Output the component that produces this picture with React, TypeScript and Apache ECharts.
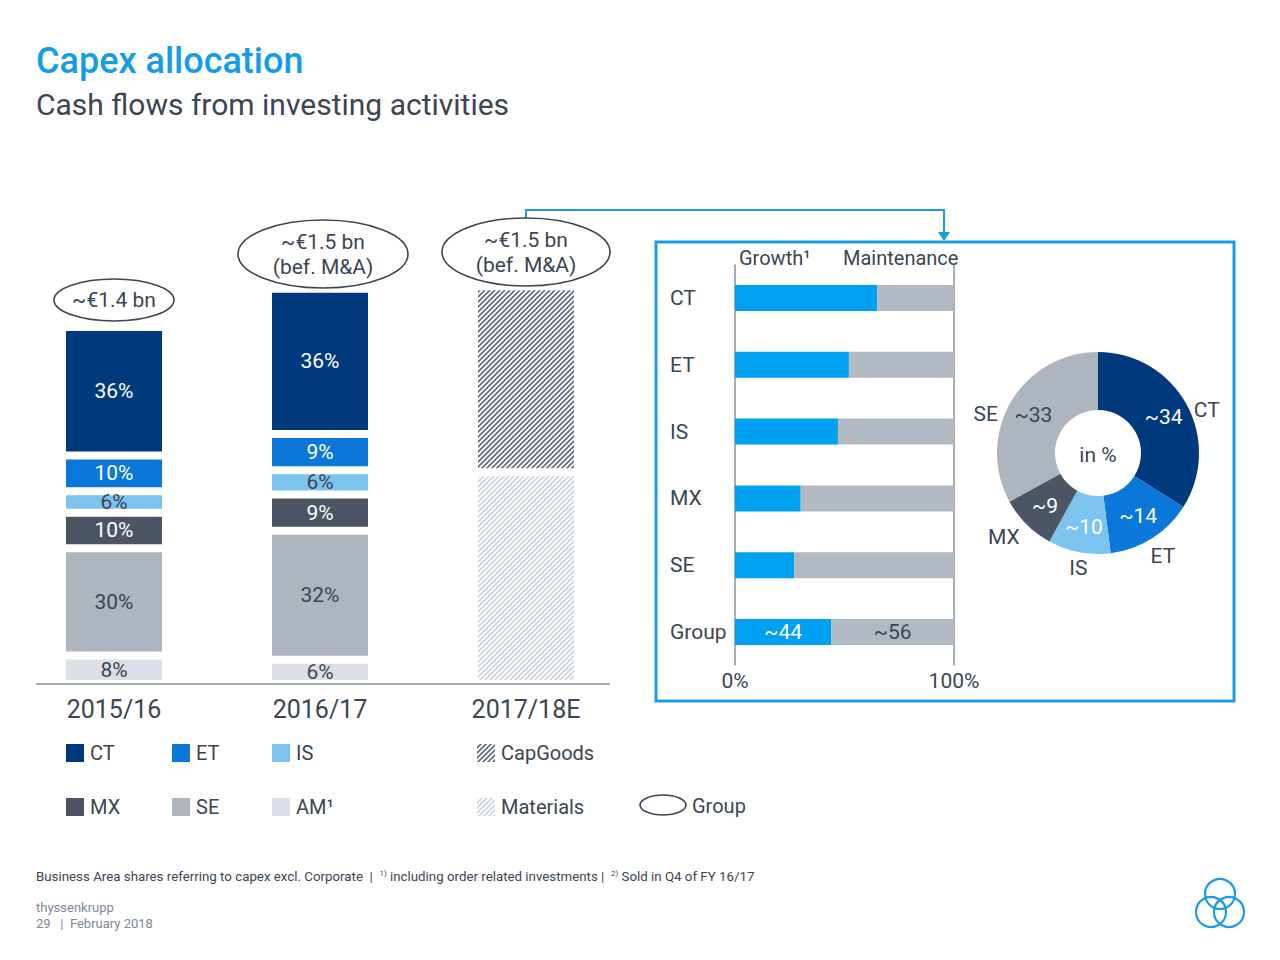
import React, { useEffect, useRef } from 'react';
import * as echarts from 'echarts';

const FONT = "Roboto, 'Liberation Sans', sans-serif";
const TEXT = '#3c4552';
const BLUE = '#1a9be6';
const FS = 20;

// ---- left: business area shares of capex ----
const years = ['2015/16', '2016/17', '2017/18E'];
const areaNames = ['CT', 'ET', 'IS', 'MX', 'SE', 'AM'];
const areaColors = ['#003a7d', '#0b77d9', '#7cc4ef', '#4b5563', '#adb5bf', '#dcdfe7'];
const areaLabelColors = ['#ffffff', '#ffffff', TEXT, '#ffffff', TEXT, TEXT];
const share201516 = [36, 10, 6, 10, 30, 8];
const share201617 = [36, 9, 6, 9, 32, 6];
const capexTotalBn = [1.4, 1.55];
const divisionNames = ['CapGoods', 'Materials'];
const division201718Bn = [0.73, 0.83];
const groupCallouts = ['~€1.4 bn', '~€1.5 bn\n(bef. M&A)', '~€1.5 bn\n(bef. M&A)'];

// ---- right: growth vs maintenance ----
const mixCategories = ['CT', 'ET', 'IS', 'MX', 'SE', 'Group'];
const growthPct = [65, 52, 47, 30, 27, 44];
const maintenancePct = [35, 48, 53, 70, 73, 56];

// ---- donut ----
const donutNames = ['CT', 'ET', 'IS', 'MX', 'SE'];
const donutPct = [34, 14, 10, 9, 33];
const donutColors = ['#003a7d', '#0b77d9', '#7cc4ef', '#4b5563', '#adb5bf'];
const donutLabelColors = ['#ffffff', '#ffffff', '#ffffff', '#ffffff', TEXT];
const donutNameNudge = [
  [-8, 12],
  [-12, 6],
  [14, 2],
  [6, 3],
  [2, 20],
];

function makeHatch(bg: string, fg: string, s: number, lw: number) {
  const c = document.createElement('canvas');
  c.width = s;
  c.height = s;
  const ctx = c.getContext('2d')!;
  ctx.fillStyle = bg;
  ctx.fillRect(0, 0, s, s);
  ctx.strokeStyle = fg;
  ctx.lineWidth = lw;
  ctx.beginPath();
  ctx.moveTo(-1, s + 1);
  ctx.lineTo(s + 1, -1);
  ctx.moveTo(-2, 2);
  ctx.lineTo(2, -2);
  ctx.moveTo(s - 2, s + 2);
  ctx.lineTo(s + 2, s - 2);
  ctx.stroke();
  return c;
}

export default function App() {
  const ref = useRef<HTMLDivElement>(null);
  useEffect(() => {
    const el = ref.current!;
    const chart = echarts.init(el, null, { renderer: 'svg' });
    const darkHatch = { image: makeHatch('#ffffff', '#66707f', 5, 1.8), repeat: 'repeat' };
    const lightHatch = { image: makeHatch('#ffffff', '#cfd4dc', 5, 1.8), repeat: 'repeat' };

    const sum1 = share201516.reduce((a, b) => a + b, 0);
    const sum2 = share201617.reduce((a, b) => a + b, 0);

    const areaSeries: any[] = [];
    // bottom to top: AM, SE, MX, IS, ET, CT
    for (let k = areaNames.length - 1; k >= 0; k--) {
      areaSeries.push({
        name: areaNames[k],
        type: 'bar',
        stack: 'capex',
        xAxisIndex: 0,
        yAxisIndex: 0,
        barWidth: 104,
        itemStyle: { color: areaColors[k], borderColor: '#ffffff', borderWidth: 4 },
        label: {
          show: true,
          position: 'inside',
          color: areaLabelColors[k],
          fontSize: FS + 1,
          fontFamily: FONT,
          formatter: (p: any) => p.data.share + '%',
        },
        data: [
          { value: (share201516[k] / sum1) * capexTotalBn[0], share: share201516[k] },
          { value: (share201617[k] / sum2) * capexTotalBn[1], share: share201617[k] },
          '-',
        ],
      });
    }
    // Materials bottom, CapGoods top
    areaSeries.push({
      name: divisionNames[1],
      type: 'bar',
      stack: 'capex',
      barWidth: 104,
      itemStyle: { color: lightHatch, borderColor: '#ffffff', borderWidth: 4 },
      data: ['-', '-', division201718Bn[1]],
    });
    areaSeries.push({
      name: divisionNames[0],
      type: 'bar',
      stack: 'capex',
      barWidth: 104,
      itemStyle: { color: darkHatch, borderColor: '#ffffff', borderWidth: 4 },
      data: ['-', '-', division201718Bn[0]],
    });

    const groupIdx = mixCategories.indexOf('Group');
    const mixLabel = (color: string) => ({
      show: true,
      position: 'inside',
      color,
      fontSize: FS + 1,
      fontFamily: FONT,
      formatter: '~{c}',
    });

    const legendRow1 = [
      { name: 'CT', x: 66, color: areaColors[0] },
      { name: 'ET', x: 172, color: areaColors[1] },
      { name: 'IS', x: 272, color: areaColors[2] },
    ];
    const legendRow2 = [
      { name: 'MX', x: 66, color: areaColors[3] },
      { name: 'SE', x: 172, color: areaColors[4] },
      { name: 'AM¹', x: 272, color: areaColors[5] },
    ];
    const legendItems: any[] = [];
    const addLegend = (name: string, x: number, y: number, fill: any) => {
      legendItems.push({ type: 'rect', shape: { x, y: y - 9, width: 18, height: 18 }, style: { fill } });
      legendItems.push({
        type: 'text', x: x + 24, y,
        style: { text: name, fill: TEXT, fontSize: FS, fontFamily: FONT, verticalAlign: 'middle', align: 'left' },
      });
    };
    legendRow1.forEach((l) => addLegend(l.name, l.x, 753, l.color));
    legendRow2.forEach((l) => addLegend(l.name, l.x, 807, l.color));
    addLegend('CapGoods', 477, 753, darkHatch);
    addLegend('Materials', 477, 807, lightHatch);

    const calloutPos = [
      { x: 114, y: 300, rx: 60, ry: 21 },
      { x: 323, y: 254, rx: 85, ry: 34 },
      { x: 526, y: 252, rx: 84, ry: 34 },
    ];
    const callouts: any[] = [];
    calloutPos.forEach((c, i) => {
      callouts.push({
        type: 'ellipse',
        shape: { cx: c.x, cy: c.y, rx: c.rx, ry: c.ry },
        style: { fill: '#ffffff', stroke: TEXT, lineWidth: 1.6 },
        z: 50,
      });
      callouts.push({
        type: 'text', x: c.x, y: c.y, z: 51,
        style: {
          text: groupCallouts[i], fill: TEXT, fontSize: FS + 1, fontFamily: FONT,
          align: 'center', verticalAlign: 'middle', lineHeight: 25,
        },
      });
    });

    const option: any = {
      animation: false,
      backgroundColor: '#ffffff',
      textStyle: { fontFamily: FONT },
      grid: [
        { left: 11, width: 618, top: 276, height: 408 },
        { left: 735, width: 219, top: 264.5, height: 401 },
      ],
      xAxis: [
        {
          type: 'category',
          gridIndex: 0,
          data: years,
          axisLine: { show: false },
          axisTick: { show: false },
          axisLabel: { color: TEXT, fontSize: 25, fontFamily: FONT, margin: 13 },
        },
        {
          type: 'value',
          gridIndex: 1,
          min: 0,
          max: 100,
          interval: 100,
          axisLine: { show: false },
          axisTick: { show: false },
          splitLine: { show: true, lineStyle: { color: '#8a919c', width: 1.5 } },
          axisLabel: { color: TEXT, fontSize: FS + 1, fontFamily: FONT, margin: 5, formatter: '{value}%' },
        },
      ],
      yAxis: [
        { type: 'value', gridIndex: 0, min: 0, max: 1.6, show: false },
        {
          type: 'category',
          gridIndex: 1,
          data: mixCategories,
          inverse: true,
          axisLine: { show: false },
          axisTick: { show: false },
          axisLabel: { color: TEXT, fontSize: FS + 1, fontFamily: FONT, align: 'left', margin: 65 },
        },
      ],
      series: [
        ...areaSeries,
        {
          name: 'Growth',
          type: 'bar',
          stack: 'mix',
          xAxisIndex: 1,
          yAxisIndex: 1,
          barWidth: 26,
          itemStyle: { color: '#00a0f0' },
          data: growthPct.map((v, i) => (i === groupIdx ? { value: v, label: mixLabel('#ffffff') } : v)),
        },
        {
          name: 'Maintenance',
          type: 'bar',
          stack: 'mix',
          xAxisIndex: 1,
          yAxisIndex: 1,
          barWidth: 26,
          itemStyle: { color: '#b1b9c3' },
          data: maintenancePct.map((v, i) => (i === groupIdx ? { value: v, label: mixLabel(TEXT) } : v)),
        },
        {
          name: 'Share',
          type: 'pie',
          center: [1098, 453],
          radius: [43, 101],
          startAngle: 90,
          clockwise: true,
          silent: true,
          avoidLabelOverlap: false,
          label: { show: true, position: 'inside', fontSize: FS + 1, fontFamily: FONT, formatter: '~{c}' },
          labelLine: { show: false },
          data: donutNames.map((n, i) => ({
            name: n,
            value: donutPct[i],
            itemStyle: { color: donutColors[i] },
            label: { color: donutLabelColors[i] },
          })),
        },
        {
          name: 'ShareNames',
          type: 'pie',
          center: [1098, 453],
          radius: [43, 101],
          startAngle: 90,
          clockwise: true,
          silent: true,
          avoidLabelOverlap: false,
          itemStyle: { color: 'rgba(0,0,0,0)' },
          label: { show: true, position: 'outside', fontSize: FS + 1, fontFamily: FONT, color: TEXT, formatter: '{b}', distanceToLabelLine: 3 },
          labelLine: { show: false, length: 14, length2: 0 },
          labelLayout: (p: any) => ({ dx: donutNameNudge[p.dataIndex][0], dy: donutNameNudge[p.dataIndex][1] }),
          data: donutNames.map((n, i) => ({ name: n, value: donutPct[i] })),
        },
      ],
      graphic: [
        {
          type: 'text', x: 36, y: 61,
          style: { text: 'Capex allocation', fill: '#139de8', fontSize: 36, fontWeight: 500, fontFamily: FONT, verticalAlign: 'middle' },
        },
        {
          type: 'text', x: 36, y: 104,
          style: { text: 'Cash flows from investing activities', fill: TEXT, fontSize: 30, fontFamily: FONT, verticalAlign: 'middle' },
        },
        { type: 'line', z: 60, shape: { x1: 36, y1: 684, x2: 610, y2: 684 }, style: { stroke: '#8a919c', lineWidth: 1.5 } },
        ...callouts,
        {
          type: 'polyline', z: 40,
          shape: { points: [[526, 218], [526, 210], [944, 210], [944, 234]] },
          style: { stroke: BLUE, lineWidth: 2, fill: 'none' },
        },
        { type: 'polygon', z: 40, shape: { points: [[938, 232], [950, 232], [944, 241]] }, style: { fill: BLUE } },
        {
          type: 'rect', z: 40,
          shape: { x: 656, y: 242, width: 578, height: 459 },
          style: { fill: 'none', stroke: BLUE, lineWidth: 3 },
        },
        {
          type: 'text', x: 739, y: 258,
          style: { text: 'Growth¹', fill: TEXT, fontSize: FS, fontFamily: FONT, verticalAlign: 'middle' },
        },
        {
          type: 'text', x: 843, y: 258,
          style: { text: 'Maintenance', fill: TEXT, fontSize: FS, fontFamily: FONT, verticalAlign: 'middle' },
        },
        {
          type: 'text', x: 1098, y: 455,
          style: { text: 'in %', fill: TEXT, fontSize: FS + 1, fontFamily: FONT, align: 'center', verticalAlign: 'middle' },
        },
        ...legendItems,
        { type: 'ellipse', shape: { cx: 663, cy: 805, rx: 23, ry: 10 }, style: { fill: 'none', stroke: TEXT, lineWidth: 1.6 } },
        {
          type: 'text', x: 692, y: 806,
          style: { text: 'Group', fill: TEXT, fontSize: FS, fontFamily: FONT, verticalAlign: 'middle' },
        },
        {
          type: 'text', x: 36, y: 876,
          style: {
            text:
              '{n|Business Area shares referring to capex excl. Corporate  |  }{s|1)}{n| including order related investments |  }{s|2)}{n| Sold in Q4 of FY 16/17}',
            verticalAlign: 'middle',
            rich: {
              n: { fontSize: 13.3, fill: TEXT, fontFamily: FONT },
              s: { fontSize: 8, fill: TEXT, fontFamily: FONT, verticalAlign: 'top' },
            },
          },
        },
        {
          type: 'text', x: 36, y: 907,
          style: { text: 'thyssenkrupp', fill: '#7d8795', fontSize: 13, fontFamily: FONT, verticalAlign: 'middle' },
        },
        {
          type: 'text', x: 36, y: 923,
          style: { text: '29   |  February 2018', fill: '#7d8795', fontSize: 13, fontFamily: FONT, verticalAlign: 'middle' },
        },
        { type: 'circle', shape: { cx: 1220, cy: 894, r: 15 }, style: { fill: 'none', stroke: BLUE, lineWidth: 2.2 } },
        { type: 'circle', shape: { cx: 1211, cy: 912, r: 15 }, style: { fill: 'none', stroke: BLUE, lineWidth: 2.2 } },
        { type: 'circle', shape: { cx: 1229, cy: 912, r: 15 }, style: { fill: 'none', stroke: BLUE, lineWidth: 2.2 } },
      ],
    };
    chart.setOption(option);
    return () => chart.dispose();
  }, []);
  return (
    <div
      ref={ref}
      style={{ position: 'fixed', left: 0, top: 0, width: 1280, height: 960, background: '#ffffff' }}
    />
  );
}
